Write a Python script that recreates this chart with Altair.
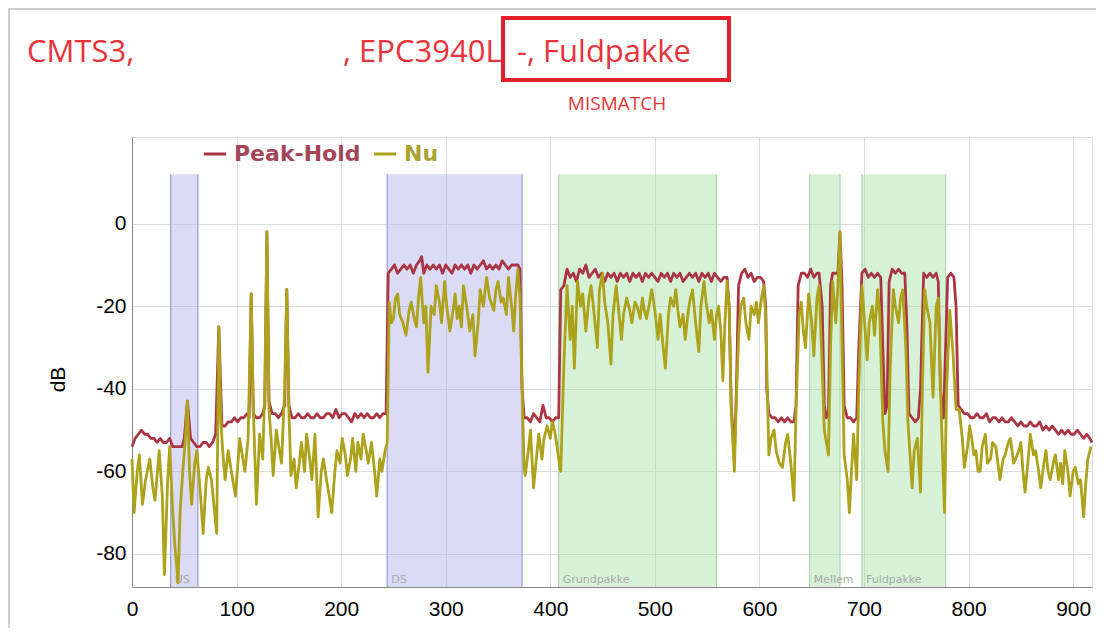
import altair as alt
import pandas as pd

# ---------------- data ----------------
peak_f = [0, 3, 6, 9, 12, 15, 18, 21, 24, 27, 30, 33, 36, 39, 42, 45, 48, 50, 53, 56, 59, 62, 65, 68, 71, 74, 77, 80, 83, 86, 89, 92, 95, 98, 101, 104, 107, 110, 112, 114, 116, 119, 122, 125, 127, 129, 131, 134, 137, 140, 143, 146, 148, 150, 153, 156, 159, 162, 165, 168, 171, 174, 177, 180, 183, 186, 189, 192, 195, 198, 201, 204, 207, 210, 213, 216, 219, 222, 225, 228, 231, 234, 237, 240, 243,
          245, 248, 251, 254, 257, 260, 263, 266, 269, 272, 275, 277, 279, 282, 285, 288, 291, 294, 297, 300, 303, 306, 309, 312, 315, 318, 321, 324, 327, 330, 333, 336, 339, 342, 345, 348, 351, 354, 357, 360, 363, 366, 369, 371, 373,
          375, 378, 381, 384, 387, 390, 393, 396, 399, 402, 405, 408,
          410, 413, 416, 419, 422, 425, 428, 431, 434, 437, 440, 443, 446, 449, 452, 455, 458, 461, 464, 467, 470, 473, 476, 479, 482, 485, 488, 491, 494, 497, 500, 503, 506, 509, 512, 515, 518, 521, 524, 527, 530, 533, 536, 539, 542, 545, 548, 551, 554, 557, 560, 563, 566, 569, 571, 573, 576, 578,
          580, 583, 586, 589, 592, 595, 598, 601, 604, 606, 607, 609, 612, 615, 618, 621, 624, 627, 630, 633, 635,
          637, 640, 643, 646, 649, 652, 655, 657, 660, 662, 664, 666, 668, 670, 673, 675, 677, 679, 681, 684, 687, 690, 693, 695,
          698, 701, 704, 707, 710, 713, 716, 718, 720, 722, 724, 727, 730, 733, 736, 739, 741, 743, 746, 749, 752, 754, 757, 760, 763, 766, 769, 771, 773, 776, 778, 780, 783, 786, 788,
          790, 793, 796, 799, 802, 805, 808, 811, 814, 817, 820, 823, 826, 829, 832, 835, 838, 841, 844, 847, 850, 853, 856, 859, 862, 865, 868, 871, 874, 877, 880, 883, 886, 889, 892, 895, 898, 901, 904, 907, 910, 913, 916, 918]
peak_db = [-54, -52, -51, -50, -51, -51, -52, -52, -53, -52, -53, -53, -52, -54, -54, -54, -54, -52, -43, -52, -53, -54, -54, -53, -53, -54, -53, -51, -25, -49, -49, -48, -48, -47, -48, -47, -47, -46, -47, -17, -46, -47, -47, -46, -44, -2, -43, -46, -46, -47, -46, -44, -16, -44, -47, -47, -46, -47, -47, -46, -47, -47, -46, -47, -47, -46, -46, -47, -45, -47, -46, -46, -47, -48, -46, -47, -46, -47, -46, -47, -47, -46, -47, -46, -46,
           -12, -11, -10, -12, -11, -10, -11, -10, -12, -10, -9, -8, -12, -10, -11, -10, -11, -10, -12, -10, -11, -12, -10, -11, -10, -11, -10, -12, -10, -11, -10, -9, -11, -10, -11, -10, -11, -9, -10, -11, -10, -10, -10, -11, -40,
           -47, -47, -48, -46, -47, -48, -44, -47, -47, -48, -47, -47,
           -16, -15, -11, -13, -12, -14, -11, -12, -10, -13, -12, -11, -13, -12, -14, -12, -13, -12, -14, -12, -13, -12, -14, -12, -13, -12, -14, -12, -13, -12, -13, -14, -12, -13, -12, -14, -12, -13, -12, -14, -13, -12, -13, -12, -14, -12, -13, -12, -14, -12, -13, -14, -13, -13, -20, -44, -56, -40,
           -15, -12, -11, -13, -12, -14, -13, -13, -14, -20, -40, -46, -47, -47, -48, -47, -48, -47, -48, -48, -44,
           -15, -12, -12, -13, -11, -13, -12, -12, -20, -44, -47, -46, -15, -12, -12, -12, -2, -15, -44, -47, -47, -48, -47, -30,
           -12, -11, -13, -12, -13, -12, -13, -30, -46, -44, -14, -11, -12, -11, -12, -12, -25, -46, -47, -48, -47, -40, -12, -13, -12, -13, -12, -14, -40, -47, -30, -13, -12, -13, -20,
           -44, -45, -46, -46, -47, -47, -46, -47, -47, -46, -48, -47, -47, -48, -47, -48, -48, -47, -48, -49, -48, -49, -49, -48, -49, -49, -48, -50, -49, -50, -49, -50, -51, -50, -51, -50, -51, -51, -50, -51, -52, -51, -52, -53]

nu_f = [0, 2, 5, 7, 10, 13, 17, 20, 22, 26, 29, 31, 34, 36, 39, 41, 44, 46, 48, 51, 53, 55, 57, 60, 62, 65, 68, 71, 73, 76, 79, 81, 83, 85, 87, 89, 92, 95, 99, 103, 106, 108, 111, 114, 116, 119, 122, 125, 127, 129, 131, 133, 135, 138, 141, 143, 146, 148, 150, 152, 155, 157, 160, 162, 165, 167, 170, 172, 175, 178, 181, 183, 186, 188, 191, 194, 196, 199, 201, 204, 206, 209, 211, 214, 216, 219, 221, 224, 226, 229, 232, 234, 237, 239, 242, 244,
        246, 248, 250, 252, 254, 256, 259, 262, 265, 267, 270, 272, 274, 276, 279, 281, 283, 286, 289, 291, 294, 296, 299, 301, 304, 307, 309, 311, 313, 315, 317, 320, 323, 326, 328, 331, 333, 336, 339, 342, 346, 348, 350, 353, 355, 358, 360, 363, 365, 367, 369, 371, 373,
        375, 376, 379, 381, 384, 387, 389, 392, 394, 397, 400, 402, 404, 406, 408, 410,
        413, 416, 419, 421, 423, 426, 429, 431, 434, 437, 439, 442, 445, 447, 450, 452, 455, 458, 460, 463, 465, 468, 470, 473, 476, 478, 481, 483, 486, 488, 490, 492, 495, 497, 500, 503, 505, 508, 510, 513, 515, 518, 520, 522, 524, 527, 529, 532, 534, 536, 539, 542, 544, 547, 549, 552, 554, 557, 559, 561, 563, 565, 567, 569, 571, 573, 576, 578,
        580, 582, 585, 587, 590, 592, 595, 597, 599, 602, 604, 606, 607, 609, 611, 614, 616, 619, 622, 625, 627, 630, 633, 635,
        638, 640, 642, 644, 647, 650, 652, 655, 657, 660, 662, 664, 666, 668, 670, 673, 675, 677, 679, 681, 684, 686, 688, 690, 693, 695,
        698, 700, 703, 705, 708, 710, 713, 715, 718, 720, 723, 725, 728, 730, 733, 735, 737, 740, 742, 744, 746, 748, 751, 754, 756, 758, 760, 763, 766, 769, 771, 774, 777, 779, 782, 785, 788,
        791, 794, 796, 799, 801, 803, 805, 807, 809, 811, 813, 816, 818, 821, 823, 826, 828, 830, 833, 835, 838, 840, 843, 845, 848, 850, 852, 854, 857, 859, 862, 864, 867, 869, 872, 874, 876, 878, 881, 883, 886, 888, 890, 892, 895, 897, 900, 902, 905, 907, 910, 912, 914, 917]
nu_db = [-57, -70, -60, -56, -68, -62, -57, -64, -67, -55, -66, -85, -63, -54, -70, -78, -87, -70, -62, -52, -43, -60, -68, -58, -55, -64, -75, -62, -59, -62, -70, -75, -25, -48, -56, -62, -55, -60, -66, -52, -57, -60, -52, -17, -45, -68, -51, -57, -40, -2, -45, -52, -61, -50, -55, -58, -40, -16, -45, -61, -57, -64, -58, -53, -60, -51, -57, -62, -51, -71, -60, -57, -62, -65, -70, -60, -55, -58, -52, -56, -61, -57, -52, -60, -53, -57, -51, -55, -58, -53, -60, -66, -57, -60, -55, -53,
         -19, -24, -23, -18, -17, -22, -24, -27, -21, -19, -23, -25, -18, -13, -24, -20, -36, -20, -22, -15, -19, -24, -14, -20, -26, -21, -17, -23, -20, -25, -15, -20, -26, -22, -32, -24, -16, -20, -13, -18, -21, -16, -14, -19, -18, -22, -13, -20, -26, -17, -11, -18, -40,
         -59, -61, -55, -50, -64, -56, -51, -57, -52, -49, -52, -48, -50, -53, -57, -60,
         -34, -15, -28, -20, -35, -14, -20, -17, -26, -18, -15, -22, -30, -16, -12, -19, -24, -34, -22, -15, -20, -28, -22, -18, -21, -24, -19, -20, -23, -18, -21, -23, -19, -16, -21, -28, -22, -30, -35, -22, -18, -20, -16, -21, -25, -22, -28, -21, -18, -16, -24, -31, -20, -14, -19, -24, -21, -28, -22, -20, -26, -38, -24, -14, -20, -45, -60, -42,
         -28, -20, -18, -24, -28, -20, -22, -19, -24, -18, -15, -22, -34, -56, -52, -50, -55, -58, -59, -53, -51, -58, -67, -45,
         -22, -19, -26, -30, -17, -24, -32, -18, -15, -35, -50, -53, -56, -30, -14, -24, -15, -2, -30, -56, -62, -70, -60, -51, -62, -40,
         -15, -22, -33, -24, -20, -27, -16, -22, -48, -55, -60, -35, -16, -20, -24, -18, -16, -30, -48, -56, -64, -55, -52, -65, -38, -16, -20, -24, -42, -20, -18, -48, -70, -40, -21, -31, -45,
         -45, -52, -59, -54, -49, -52, -56, -55, -60, -60, -54, -51, -58, -57, -53, -54, -58, -62, -57, -56, -53, -52, -58, -57, -55, -53, -60, -65, -57, -51, -56, -55, -60, -64, -58, -55, -60, -62, -58, -56, -62, -58, -63, -55, -60, -66, -60, -59, -63, -62, -71, -63, -57, -54]

band_names = ["US", "DS", "Grundpakke", "Mellem", "Fuldpakke"]
band_start = [37, 244, 408, 648, 698]
band_end = [63, 373, 559, 677, 778]
band_kind = ["up/down", "up/down", "pakke", "pakke", "pakke"]

series_names = ["Peak-Hold", "Nu"]
x_ticks = [0, 100, 200, 300, 400, 500, 600, 700, 800, 900]
y_ticks = [-80, -60, -40, -20, 0]

# ---------------- tables ----------------
lines = pd.concat([
    pd.DataFrame({"MHz": peak_f, "dB": peak_db, "serie": "Peak-Hold", "ord": 0}),
    pd.DataFrame({"MHz": nu_f, "dB": nu_db, "serie": "Nu", "ord": 1}),
], ignore_index=True)
bands = pd.DataFrame({"name": band_names, "start": band_start, "end": band_end, "kind": band_kind})

W, H = 960, 450
PEAK = "#aa3644"
NU = "#aca21c"
xs = alt.Scale(domain=[0, 918], nice=False, zero=False)
ys = alt.Scale(domain=[-88, 21], nice=False, zero=False)
kind_fill = alt.Scale(domain=["up/down", "pakke"], range=["#b0b0e8", "#a6e0a6"])
kind_edge = alt.Scale(domain=["up/down", "pakke"], range=["#9a9ad8", "#a8d8a8"])

base_b = alt.Chart(bands)
band_rect = base_b.mark_rect(opacity=0.45).encode(
    x=alt.X("start:Q", scale=xs),
    x2="end:Q",
    y=alt.datum(12, scale=ys),
    y2=alt.datum(-88),
    fill=alt.Fill("kind:N", scale=kind_fill, legend=None),
)
band_l = base_b.mark_rule(strokeWidth=1.2).encode(
    x=alt.X("start:Q", scale=xs), y=alt.datum(12, scale=ys), y2=alt.datum(-88),
    stroke=alt.Stroke("kind:N", scale=kind_edge, legend=None))
band_r = base_b.mark_rule(strokeWidth=1.2).encode(
    x=alt.X("end:Q", scale=xs), y=alt.datum(12, scale=ys), y2=alt.datum(-88),
    stroke=alt.Stroke("kind:N", scale=kind_edge, legend=None))
band_txt = base_b.mark_text(align="left", baseline="bottom", dx=4, fontSize=11,
                            font="DejaVu Sans", color="#aaaaaa").encode(
    x=alt.X("start:Q", scale=xs), y=alt.value(H - 2), text="name:N")

grid = alt.Chart(lines).mark_line(opacity=0).encode(
    x=alt.X("MHz:Q", scale=xs,
            axis=alt.Axis(values=x_ticks, title=None, grid=True, ticks=False,
                          labelFlush=False, labelOverlap=False,
                          labelPadding=11, labelFontSize=21)),
    y=alt.Y("dB:Q", scale=ys,
            axis=alt.Axis(values=y_ticks, title="dB", grid=True, ticks=False,
                          labelExpr="'' + datum.value", labelFlush=False,
                          labelPadding=6, labelFontSize=21, titleFontSize=21,
                          titleFontWeight="normal", titleX=-74, titleY=242,
                          titleAngle=-90, titleAlign="center", titleBaseline="middle")),
)

series = alt.Chart(lines).mark_line(strokeWidth=2.8, strokeJoin="round").encode(
    x=alt.X("MHz:Q", scale=xs),
    y=alt.Y("dB:Q", scale=ys),
    color=alt.Color("serie:N", scale=alt.Scale(domain=series_names, range=[PEAK, NU]),
                    sort=series_names,
                    legend=alt.Legend(title=None, orient="none", direction="horizontal",
                                      legendX=70, legendY=4, symbolType="stroke",
                                      symbolSize=500, symbolStrokeWidth=3,
                                      labelFontSize=22, labelFontWeight="bold",
                                      labelFont="DejaVu Sans", columnPadding=6,
                                      labelOffset=6,
                                      labelColor={"expr": "datum.label == 'Nu' ? '#aaa232' : '#a3465a'"})),
    order="ord:Q",
)

one = alt.Chart(pd.DataFrame({"a": [0]}))
TITLE_RED = "#e8333b"
TF = 31
t1 = one.mark_text(align="left", baseline="alphabetic", fontSize=TF, font="Open Sans",
                   color=TITLE_RED, text="CMTS3,").encode(x=alt.value(-105), y=alt.value(-75))
t2 = one.mark_text(align="left", baseline="alphabetic", fontSize=TF, font="Open Sans",
                   color=TITLE_RED, text=", EPC3940L").encode(x=alt.value(211), y=alt.value(-75))
t3 = one.mark_text(align="left", baseline="alphabetic", fontSize=TF, font="Open Sans",
                   color=TITLE_RED, text="-, Fuldpakke").encode(x=alt.value(385), y=alt.value(-75))
box = one.mark_rect(fillOpacity=0, stroke="#e3202a", strokeWidth=4).encode(
    x=alt.value(371), x2=alt.value(597), y=alt.value(-119), y2=alt.value(-57))
mm = one.mark_text(align="center", baseline="middle", fontSize=19, font="Open Sans",
                   color=TITLE_RED, text="MISMATCH").encode(x=alt.value(485), y=alt.value(-33))
frame = one.mark_rect(fillOpacity=0, stroke="#cfcfcf", strokeWidth=2).encode(
    x=alt.value(-123), x2=alt.value(W + 10), y=alt.value(-128), y2=alt.value(H + 60))

chart = alt.layer(frame, band_rect, grid, band_l, band_r, band_txt, series,
                  t1, t2, t3, box, mm).properties(
    width=W, height=H,
    autosize=alt.AutoSizeParams(type="none"),
    padding={"left": 124, "top": 129, "right": 4, "bottom": 41},
).configure_view(strokeWidth=0).configure_axis(
    domainColor="#9a9a9a", domainWidth=1.5, gridColor="#d0d0d0", gridWidth=1.2,
    labelColor="#444444", labelFont="DejaVu Sans", titleFont="DejaVu Sans",
    titleColor="#333333",
).configure(background="white")

chart.save("out.html", embed_options={"renderer": "svg", "actions": False})
